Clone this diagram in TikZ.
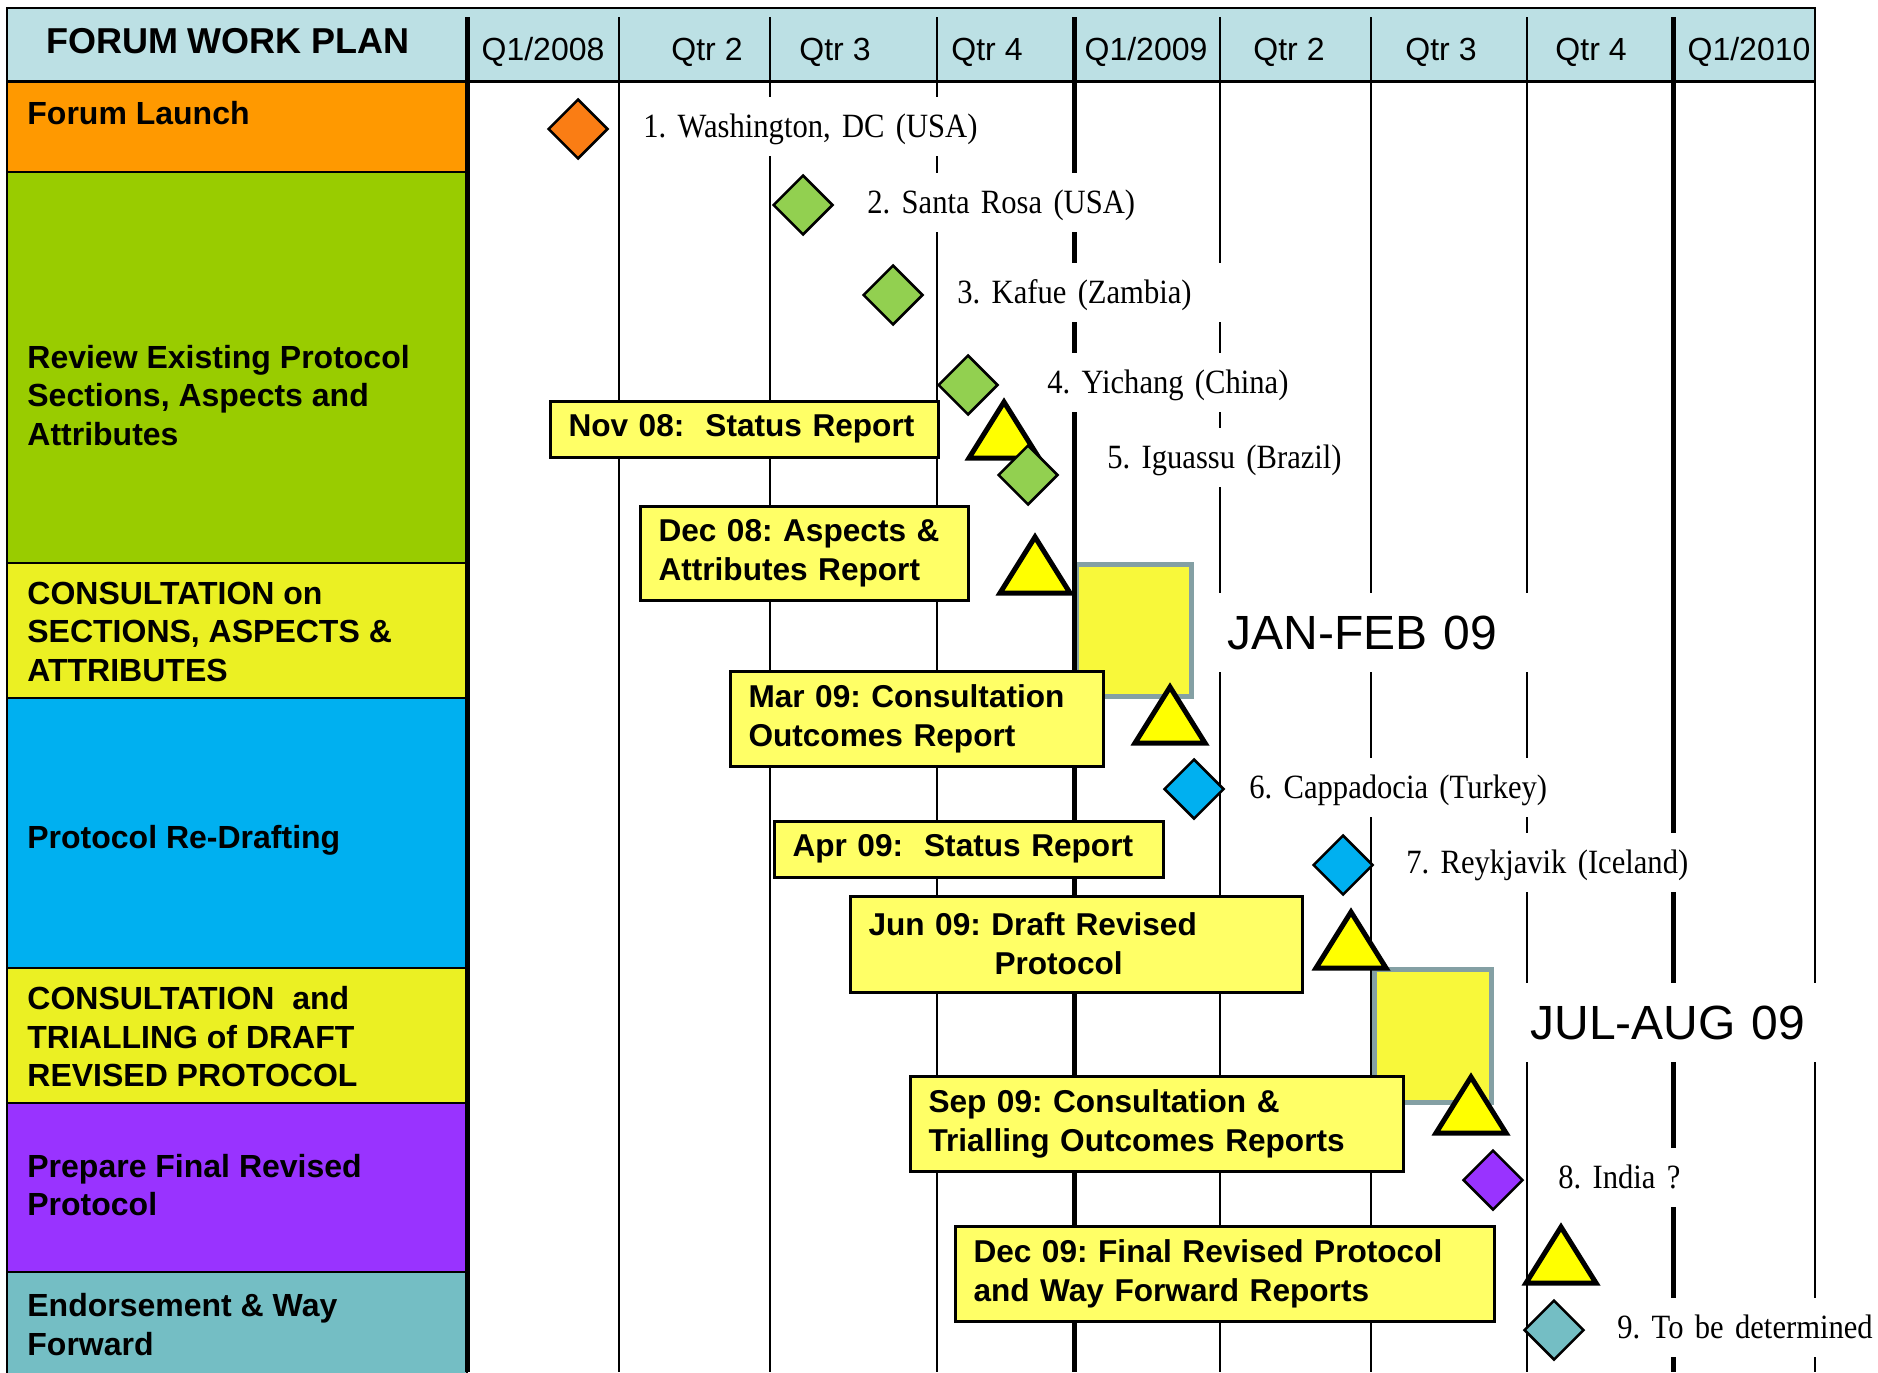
\documentclass[tikz,border=0pt]{standalone}
\usepackage{fontspec}
\setmainfont{Liberation Sans}
\newfontfamily\venuefont[FakeStretch=0.9]{Liberation Serif}
\definecolor{HeaderColor}{RGB}{188,224,228}
\definecolor{LaunchColor}{RGB}{255,153,0}
\definecolor{ReviewColor}{RGB}{153,204,0}
\definecolor{ConsultColor}{RGB}{235,240,35}
\definecolor{DraftColor}{RGB}{0,176,240}
\definecolor{FinalColor}{RGB}{153,51,255}
\definecolor{EndorseColor}{RGB}{116,190,196}
\definecolor{LaunchMark}{RGB}{250,125,20}
\definecolor{ReviewMark}{RGB}{146,208,80}
\definecolor{ReportColor}{RGB}{255,255,102}
\definecolor{DeadlineColor}{RGB}{255,255,0}
\definecolor{WindowColor}{RGB}{248,248,58}
\definecolor{WindowEdge}{RGB}{132,160,164}
\usepackage{tikz}
\usetikzlibrary{shapes.geometric}
\frenchspacing
\hyphenpenalty=10000
\tikzstyle{rowlabel} = [anchor=west, align=left, inner sep=0pt, font=\fontsize{16pt}{19.25pt}\selectfont\bfseries]
\tikzstyle{quarter} = [inner sep=0pt, text height=11.5pt, text depth=0pt, font=\fontsize{16pt}{19pt}\selectfont]
\tikzstyle{venue} = [anchor=west, fill=white, inner xsep=9pt, inner ysep=0pt, minimum height=29.5pt, text height=11.25pt, text depth=0pt, align=left, font=\venuefont\fontsize{17pt}{20pt}\selectfont]
\tikzstyle{season} = [anchor=west, fill=white, inner ysep=0pt, minimum height=39.5pt, text height=17.2pt, text depth=0pt, align=left, font=\fontsize{24pt}{28pt}\selectfont]
\tikzstyle{report} = [anchor=north west, draw=black, line width=1.5pt, fill=ReportColor, inner xsep=9.25pt, inner ysep=0pt, align=left, font=\fontsize{15.8pt}{19.5pt}\selectfont\bfseries]
\tikzstyle{meeting} = [diamond, draw=black, line width=1.25pt, minimum width=30pt, minimum height=30pt, inner sep=0pt]
\tikzstyle{deadline} = [draw=black, line width=2.5pt, fill=DeadlineColor, line join=miter]
\tikzstyle{window} = [draw=WindowEdge, line width=2.5pt, fill=WindowColor]
\newcommand{\reportmark}[2]{\draw[deadline] (#1,#2) -- ++(35,56) -- ++(-70,0) -- cycle;}

\begin{document}
\begin{tikzpicture}[x=0.5pt, y=-0.5pt]
    \useasboundingbox (0,0) rectangle (1878,1372);

    % Header band
    \draw[fill=HeaderColor, line width=1pt] (7,8) rectangle (1815,81);

    % Activity rows
    \foreach \top/\bot/\col in {81/172/LaunchColor, 172/563/ReviewColor, 563/698/ConsultColor, 698/968/DraftColor, 968/1103/ConsultColor, 1103/1272/FinalColor, 1272/1380/EndorseColor} {
            \draw[fill=\col, line width=1pt] (7,\top) rectangle (467,\bot);
        }

    % Consultation windows
    \draw[window] (1076.5,564.5) rectangle (1191.5,696.5);
    \draw[window] (1374.5,969.5) rectangle (1491.5,1102.5);

    % Quarter lines
    \foreach \x in {619,770,937,1220,1371,1527,1815} {
            \draw[line width=1.15pt] (\x,17) -- (\x,1372);
        }
    \foreach \x in {467,1074,1673} {
            \draw[line width=2.5pt] (\x,17) -- (\x,1372);
        }
    \draw[line width=1.5pt] (7,81) -- (1815,81);

    % Header labels
    \node[inner sep=0pt, font=\fontsize{18pt}{21pt}\selectfont\bfseries] (plan) at (228,41) {FORUM WORK PLAN};
    \node[quarter] (q1) at (543,49) {Q1/2008};
    \node[quarter] (q2) at (707,49) {Qtr 2};
    \node[quarter] (q3) at (835,49) {Qtr 3};
    \node[quarter] (q4) at (987,49) {Qtr 4};
    \node[quarter] (q5) at (1146,49) {Q1/2009};
    \node[quarter] (q6) at (1289,49) {Qtr 2};
    \node[quarter] (q7) at (1441,49) {Qtr 3};
    \node[quarter] (q8) at (1591,49) {Qtr 4};
    \node[quarter] (q9) at (1749,49) {Q1/2010};

    % Row labels
    \node[rowlabel] (launch) at (27,113) {Forum Launch};
    \node[rowlabel] (review) at (27,395.5) {Review Existing Protocol\\Sections, Aspects and\\Attributes};
    \node[rowlabel] (consult1) at (27,631.5) {CONSULTATION on\\SECTIONS, ASPECTS \&\\ATTRIBUTES};
    \node[rowlabel] (redraft) at (27,840) {Protocol Re-Drafting};
    \node[rowlabel] (consult2) at (27,1037) {CONSULTATION~~and\\TRIALLING of DRAFT\\REVISED PROTOCOL};
    \node[rowlabel] (final) at (27,1185) {Prepare Final Revised\\Protocol};
    \node[rowlabel] (endorse) at (27,1324.5) {Endorsement \& Way\\Forward};

    % Meeting venues
    \node[venue, text width=185pt] (v1) at (625,126.5) {1.~Washington,~DC~(USA)};
    \node[venue, text width=147.5pt] (v2) at (849,202) {2.~Santa~Rosa~(USA)};
    \node[venue, text width=132.5pt] (v3) at (939,292) {3.~Kafue~(Zambia)};
    \node[venue, text width=137.5pt] (v4) at (1029,382) {4.~Yichang~(China)};
    \node[venue, text width=122.5pt] (v5) at (1089,457) {5.~Iguassu~(Brazil)};
    \node[venue, text width=166.5pt] (v6) at (1231,787.5) {6.~Cappadocia~(Turkey)};
    \node[venue, text width=168pt] (v7) at (1388,862.5) {7.~Reykjavik~(Iceland)};
    \node[venue, text width=87pt] (v8) at (1540,1177) {8.~India~?};
    \node[venue, text width=142.5pt] (v9) at (1599,1327.5) {9.~To~be~determined};

    % Window labels
    \node[season, inner xsep=7.5pt, text width=151.5pt] (janfeb) at (1212,632.5) {JAN-FEB 09};
    \node[season, inner xsep=6pt, text width=154pt] (julaug) at (1518,1022) {JUL-AUG 09};

    % Reports
    \node[report, minimum width=194pt, minimum height=28pt, text width=175.5pt] (r1) at (548.5,399.5) {Nov~08:~~Status~Report};
    \node[report, minimum width=164pt, minimum height=47pt, text width=145.5pt] (r2) at (638.5,504.5) {Dec 08: Aspects \&\\Attributes Report};
    \node[report, minimum width=186.5pt, minimum height=47.5pt, text width=168pt] (r3) at (728.5,669.5) {Mar 09: Consultation\\Outcomes Report};
    \node[report, minimum width=194.5pt, minimum height=28pt, text width=176pt] (r4) at (772.5,819.5) {Apr~09:~~Status~Report};
    \node[report, minimum width=226pt, minimum height=48pt, text width=207.5pt] (r5) at (848.5,894.5) {Jun 09: Draft Revised\\\hspace*{63pt}Protocol};
    \node[report, minimum width=246.5pt, minimum height=47.5pt, text width=228pt] (r6) at (908.5,1074.5) {Sep 09: Consultation \&\\Trialling Outcomes Reports};
    \node[report, minimum width=269.5pt, minimum height=47.5pt, text width=251pt] (r7) at (953.5,1224.5) {Dec 09: Final Revised Protocol\\and Way Forward Reports};

    % Report milestones
    \reportmark{1004}{402}
    \reportmark{1035}{537}
    \reportmark{1170}{687}
    \reportmark{1351}{912}
    \reportmark{1471}{1077}
    \reportmark{1561}{1227}

    % Meeting milestones
    \node[meeting, fill=LaunchMark] (m1) at (578,129) {};
    \node[meeting, fill=ReviewMark] (m2) at (803,205) {};
    \node[meeting, fill=ReviewMark] (m3) at (893,295) {};
    \node[meeting, fill=ReviewMark] (m4) at (968,385) {};
    \node[meeting, fill=ReviewMark] (m5) at (1028,475) {};
    \node[meeting, fill=DraftColor] (m6) at (1194,789) {};
    \node[meeting, fill=DraftColor] (m7) at (1343,865) {};
    \node[meeting, fill=FinalColor] (m8) at (1493,1180) {};
    \node[meeting, fill=EndorseColor] (m9) at (1554,1330) {};
\end{tikzpicture}
\end{document}
